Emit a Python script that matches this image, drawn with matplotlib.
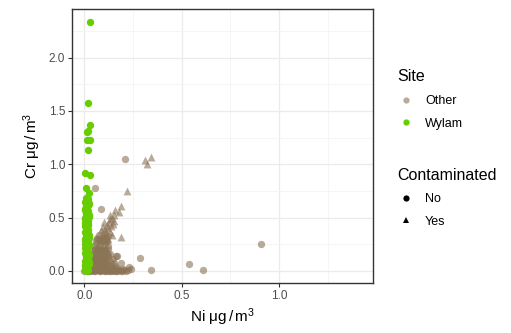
import matplotlib
matplotlib.use("Agg")
import matplotlib.pyplot as plt
from matplotlib.lines import Line2D

plt.rcParams['font.family'] = ['Liberation Sans', 'DejaVu Sans']
plt.rcParams['mathtext.fontset'] = 'custom'
plt.rcParams['mathtext.rm'] = 'Liberation Sans'
plt.rcParams['mathtext.it'] = 'Liberation Sans:italic'

# Site = Other, Contaminated = No
other_no_ni = [0.209, 0.056, 0.087, 0.908, 0.537, 0.609, 0.342, 0.287, 0.241, 0.231,
               0.186, 0.168, 0.164, 0.121, 0.104,
               0.005, 0.012, 0.018, 0.025, 0.032, 0.038, 0.045, 0.052, 0.058, 0.065,
               0.072, 0.078, 0.085, 0.092, 0.098, 0.105, 0.112, 0.120, 0.128, 0.135,
               0.142, 0.150, 0.158, 0.170, 0.180, 0.195, 0.205, 0.215, 0.225,
               0.020, 0.030, 0.040, 0.050, 0.060, 0.070, 0.080, 0.090, 0.100, 0.110,
               0.125, 0.140, 0.155, 0.170,
               0.030, 0.040, 0.050, 0.060, 0.070, 0.080, 0.090, 0.100, 0.110, 0.130, 0.145,
               0.040, 0.050, 0.060, 0.070, 0.080, 0.090, 0.100, 0.115, 0.130,
               0.050, 0.060, 0.070, 0.080, 0.090, 0.100, 0.110, 0.120,
               0.065, 0.075, 0.090, 0.100, 0.110, 0.120,
               0.000, 0.008, 0.015, 0.022, 0.030, 0.042, 0.055, 0.068, 0.082, 0.095,
               0.108, 0.118, 0.132, 0.145, 0.162, 0.175, 0.190, 0.200,
               0.025, 0.035, 0.045, 0.055, 0.065, 0.075, 0.085, 0.095, 0.105, 0.115,
               0.135, 0.150,
               0.035, 0.045, 0.055, 0.065, 0.075, 0.085, 0.095, 0.105, 0.120,
               0.045, 0.055, 0.065, 0.075, 0.085, 0.095, 0.105, 0.120,
               0.060, 0.070, 0.080, 0.095, 0.105, 0.115]
other_no_cr = [1.045, 0.776, 0.579, 0.254, 0.066, 0.012, 0.012, 0.122, 0.016, 0.040,
               0.075, 0.144, 0.141, 0.150, 0.197,
               0.005, 0.012, 0.002, 0.015, 0.004, 0.018, 0.008, 0.002, 0.014, 0.006,
               0.020, 0.003, 0.011, 0.005, 0.017, 0.002, 0.009, 0.004, 0.013, 0.003,
               0.008, 0.002, 0.010, 0.004, 0.012, 0.003, 0.006, 0.002, 0.010,
               0.035, 0.050, 0.030, 0.045, 0.060, 0.035, 0.050, 0.040, 0.060, 0.030,
               0.045, 0.035, 0.050, 0.030,
               0.090, 0.110, 0.080, 0.100, 0.120, 0.090, 0.110, 0.085, 0.100, 0.090, 0.110,
               0.150, 0.170, 0.140, 0.190, 0.160, 0.180, 0.150, 0.170, 0.160,
               0.230, 0.260, 0.220, 0.250, 0.280, 0.240, 0.270, 0.230,
               0.310, 0.340, 0.320, 0.350, 0.310, 0.330,
               0.000, 0.006, 0.010, 0.000, 0.008, 0.012, 0.000, 0.009, 0.000, 0.010,
               0.000, 0.015, 0.000, 0.012, 0.000, 0.007, 0.000, 0.014,
               0.070, 0.065, 0.075, 0.070, 0.080, 0.070, 0.075, 0.065, 0.080, 0.070,
               0.065, 0.075,
               0.130, 0.125, 0.130, 0.120, 0.130, 0.125, 0.135, 0.120, 0.130,
               0.200, 0.210, 0.200, 0.210, 0.200, 0.210, 0.200, 0.205,
               0.290, 0.300, 0.290, 0.300, 0.290, 0.285]

# Site = Other, Contaminated = Yes
other_yes_ni = [0.344, 0.309, 0.321, 0.219, 0.190, 0.176, 0.159, 0.133, 0.190, 0.099,
                0.024, 0.085, 0.095, 0.105, 0.115, 0.120, 0.125, 0.130, 0.140, 0.145,
                0.110, 0.130, 0.135, 0.150, 0.120, 0.100, 0.080, 0.140, 0.150]
other_yes_cr = [1.068, 1.036, 0.998, 0.745, 0.613, 0.554, 0.573, 0.526, 0.316, 0.463,
                0.673, 0.380, 0.410, 0.390, 0.430, 0.400, 0.460, 0.490, 0.500, 0.440,
                0.360, 0.370, 0.420, 0.520, 0.300, 0.330, 0.280, 0.340, 0.470]

# Site = Wylam
wylam_ni = [0.027, 0.021, 0.027, 0.017, 0.014, 0.014, 0.027, 0.021, 0.003, 0.027,
            0.010, 0.024,
            0.010, 0.015, 0.008, 0.020, 0.012, 0.005, 0.018, 0.010, 0.022, 0.006,
            0.015, 0.010, 0.020, 0.004, 0.014, 0.018, 0.008, 0.024, 0.012, 0.006,
            0.018, 0.010, 0.022, 0.005, 0.015, 0.010, 0.020, 0.007, 0.016, 0.012,
            0.022, 0.005, 0.016, 0.010, 0.020, 0.003,
            0.018, 0.005, 0.022, 0.008, 0.016, 0.003, 0.020, 0.010, 0.024, 0.006,
            0.018, 0.004, 0.021, 0.009, 0.015, 0.002, 0.019, 0.011, 0.023, 0.005,
            0.017, 0.003, 0.020, 0.008, 0.014, 0.002, 0.022, 0.010, 0.018, 0.006,
            0.024, 0.004, 0.016, 0.012]
wylam_cr = [2.335, 1.577, 1.368, 1.310, 1.300, 1.223, 1.223, 1.133, 0.917, 0.898,
            0.773, 0.735,
            0.680, 0.660, 0.640, 0.620, 0.600, 0.580, 0.560, 0.540, 0.520, 0.500,
            0.480, 0.460, 0.440, 0.420, 0.400, 0.380, 0.360, 0.340, 0.320, 0.300,
            0.280, 0.260, 0.240, 0.220, 0.200, 0.180, 0.160, 0.140, 0.120, 0.100,
            0.080, 0.060, 0.040, 0.020, 0.010, 0.005,
            0.670, 0.650, 0.630, 0.610, 0.590, 0.570, 0.550, 0.530, 0.510, 0.490,
            0.470, 0.450, 0.430, 0.410, 0.390, 0.370, 0.350, 0.330, 0.310, 0.290,
            0.270, 0.250, 0.230, 0.210, 0.190, 0.170, 0.150, 0.130, 0.110, 0.090,
            0.070, 0.050, 0.030, 0.000]

x_ticks = [0.0, 0.5, 1.0]
y_ticks = [0.0, 0.5, 1.0, 1.5, 2.0]

other_col = '#8B7355'
wylam_col = '#66CD00'

fig = plt.figure(figsize=(5.11, 3.33), dpi=100)
ax = fig.add_axes([0.141, 0.150, 0.589, 0.823])

ax.scatter(other_no_ni, other_no_cr, s=28, marker='o', color=other_col, alpha=0.6,
           linewidths=0, zorder=3)
ax.scatter(other_yes_ni, other_yes_cr, s=32, marker='^', color=other_col, alpha=0.6,
           linewidths=0, zorder=3)
ax.scatter(wylam_ni, wylam_cr, s=28, marker='o', color=wylam_col, linewidths=0, zorder=4)

ax.set_xlim(-0.063, 1.482)
ax.set_ylim(-0.113, 2.455)
ax.set_xticks(x_ticks)
ax.set_yticks(y_ticks)
ax.set_xticks([0.25, 0.75, 1.25], minor=True)
ax.set_yticks([0.25, 0.75, 1.25, 1.75, 2.25], minor=True)
ax.set_xticklabels([f"{v:.1f}" for v in x_ticks])
ax.set_yticklabels([f"{v:.1f}" for v in y_ticks])
ax.grid(which='major', color='#EBEBEB', linewidth=0.9, zorder=0)
ax.grid(which='minor', color='#F4F4F4', linewidth=0.6, zorder=0)
ax.set_axisbelow(True)
ax.tick_params(which='major', length=3, width=0.8, color='#333333',
               labelcolor='#4D4D4D', labelsize=8.5, pad=2)
ax.tick_params(which='minor', length=0)
for sp in ax.spines.values():
    sp.set_color('#333333')
    sp.set_linewidth(1.0)

ax.set_xlabel(r'$\mathrm{Ni}\ \mathrm{\mu g}\,/\,\mathrm{m}^{3}$', fontsize=11, labelpad=3)
ax.set_ylabel(r'$\mathrm{Cr}\ \mathrm{\mu g}\,/\,\mathrm{m}^{3}$', fontsize=11, labelpad=4)

site_handles = [
    Line2D([], [], marker='o', linestyle='', color=other_col, alpha=0.6, markersize=4.5,
           markeredgewidth=0),
    Line2D([], [], marker='o', linestyle='', color=wylam_col, markersize=4.5,
           markeredgewidth=0),
]
leg1 = fig.legend(site_handles, ['Other', 'Wylam'], title='Site', loc='upper left',
                  bbox_to_anchor=(0.768, 0.807), frameon=False, fontsize=9,
                  title_fontsize=11.5, handlelength=1.3, handletextpad=0.9,
                  labelspacing=0.85, alignment='left', borderaxespad=0)

cont_handles = [
    Line2D([], [], marker='o', linestyle='', color='black', markersize=4.5,
           markeredgewidth=0),
    Line2D([], [], marker='^', linestyle='', color='black', markersize=5,
           markeredgewidth=0),
]
leg2 = fig.legend(cont_handles, ['No', 'Yes'], title='Contaminated', loc='upper left',
                  bbox_to_anchor=(0.768, 0.512), frameon=False, fontsize=9,
                  title_fontsize=11.5, handlelength=1.3, handletextpad=0.9,
                  labelspacing=0.85, alignment='left', borderaxespad=0)

fig.savefig('out.png', dpi=100)
